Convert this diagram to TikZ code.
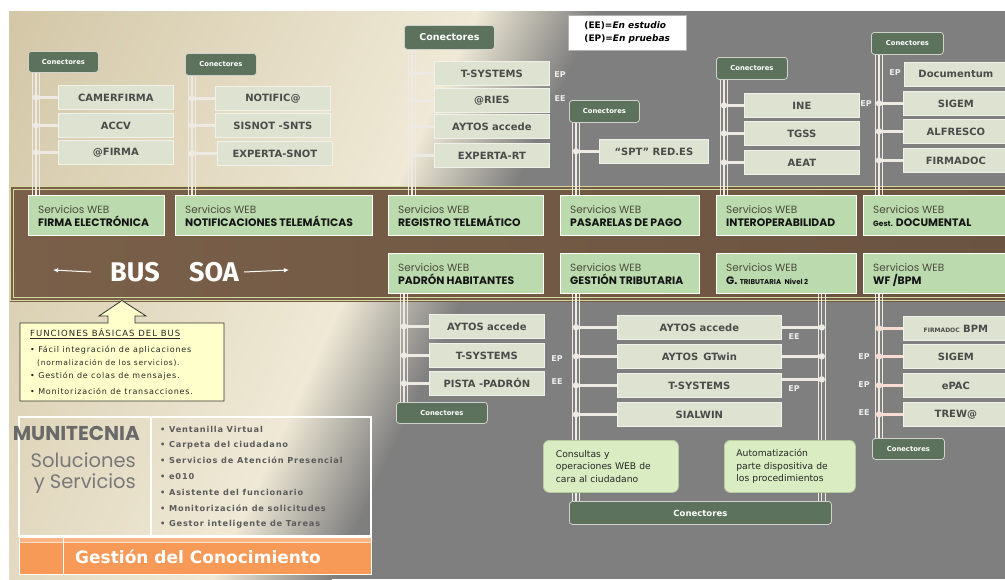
\documentclass[tikz,border=0pt]{standalone}
\usepackage{fontspec}
\setmainfont{DejaVu Sans}
\newfontfamily\gothic{Poppins}
\newfontfamily\busfont{Fira Sans}
\usetikzlibrary{shadows,arrows.meta}

\definecolor{bggray}{HTML}{7F7F7F}
\definecolor{beigeD}{HTML}{D3C7A7}
\definecolor{beigeL}{HTML}{EFE9D6}
\definecolor{busbrown}{HTML}{6A5341}
\definecolor{busbrownL}{HTML}{7A6049}
\definecolor{busline}{HTML}{D6D99F}
\definecolor{svcfill}{HTML}{BBDBAE}
\definecolor{svctext}{HTML}{4A4A3C}
\definecolor{compfill}{HTML}{DDE3D0}
\definecolor{compline}{HTML}{F0F2EA}
\definecolor{comptext}{HTML}{4B4B4B}
\definecolor{connfill}{HTML}{5C725C}
\definecolor{connline}{HTML}{D2D2CC}
\definecolor{wire}{HTML}{EDEAE3}
\definecolor{pinkwire}{HTML}{F7DDD3}
\definecolor{flagtext}{HTML}{EEEEEE}
\definecolor{calloutfill}{HTML}{D9ECC2}
\definecolor{calloutline}{HTML}{B9C9A0}
\definecolor{notefill}{HTML}{FFFFCC}
\definecolor{munigray}{HTML}{696969}
\definecolor{listgray}{HTML}{5B5B5B}
\definecolor{orangebar}{HTML}{F79A58}
\definecolor{orangelight}{HTML}{FBB585}

\pgfdeclarelayer{bg}
\pgfdeclarelayer{wires}
\pgfsetlayers{bg,wires,main}

\tikzset{
  comp/.style={draw=compline, fill=compfill, line width=.8pt, text=comptext,
    font=\bfseries\fontsize{10}{11}\selectfont, minimum height=24pt, inner sep=0pt, anchor=north west},
  conn/.style={draw=connline, fill=connfill, rounded corners=3pt, line width=.8pt, text=white,
    font=\bfseries\fontsize{6.8}{7}\selectfont, minimum width=71pt, minimum height=22pt,
    inner sep=0pt, anchor=north west},
  svc/.style={draw=white, fill=svcfill, line width=.8pt, minimum height=40pt, inner sep=0pt, anchor=north west},
  svcA/.style={anchor=base west, inner sep=0pt, text=svctext, font=\gothic\fontsize{10.5}{11}\selectfont},
  svcB/.style={anchor=base west, inner sep=0pt, text=black!92, font=\gothic\bfseries\fontsize{10.8}{11}\selectfont},
  flag/.style={text=flagtext, font=\bfseries\fontsize{8}{9}\selectfont, inner sep=0pt},
  branch/.style={wire, line width=3pt},
  callout/.style={draw=calloutline, fill=calloutfill, rounded corners=6pt, line width=.8pt,
    anchor=north west, align=left, text=black!85, font=\fontsize{9.2}{12.5}\selectfont,
    inner xsep=12pt, minimum height=52pt},
  note/.style={anchor=west, inner sep=0pt, text=black!85,
    font=\fontsize{8}{9}\selectfont\addfontfeatures{LetterSpace=10}},
  item/.style={anchor=west, inner sep=0pt, text=listgray,
    font=\bfseries\fontsize{8.2}{9}\selectfont\addfontfeatures{LetterSpace=10}},
  busarrow/.style={white, line width=1pt, -{Latex[length=5pt,width=4.5pt]}}
}

\begin{document}
\begin{tikzpicture}[x=1pt, y=-1pt]
\useasboundingbox (0,0) rectangle (1005,579);

% background and bus
\begin{pgfonlayer}{bg}
\fill[bggray] (9,11) rectangle (1005,579);
\begin{scope}
  \clip (9,11) rectangle (1005,579);
  \begin{scope}[transform canvas={rotate around={-25:(545,11)}}]
    \fill[beigeD] (-500,-600) rectangle (66,1300);
    \shade[left color=beigeD, right color=beigeL] (64,-600) rectangle (486,1300);
    \shade[left color=beigeL, right color=bggray] (484,-600) rectangle (592,1300);
  \end{scope}
\end{scope}
\shade[left color=busbrownL, right color=busbrown] (10,186) rectangle (1010,301);
\draw[busline, line width=1pt] (10.5,186.5) rectangle (1012,300.5);
\draw[busline, line width=.8pt] (13.5,189.5) rectangle (1012,297.5);
\end{pgfonlayer}

% servicios web
\foreach \nm/\x/\y/\w/\txt in {firma/28/195/136/{FIRMA ELECTRÓNICA},
    notif/175/195/197/{NOTIFICACIONES TELEMÁTICAS}, registro/388/195/155/{REGISTRO TELEMÁTICO},
    pasarela/560/195/139/{PASARELAS DE PAGO}, interop/716/195/140/{INTEROPERABILIDAD},
    gestdoc/863/195/145/{{\fontsize{7.5}{8}\selectfont Gest.} DOCUMENTAL},
    padron/388/253/155/{PADRÓN HABITANTES}, gestrib/560/253/139/{GESTIÓN TRIBUTARIA},
    gtrib2/716/253/140/{G. {\fontsize{7}{8}\selectfont TRIBUTARIA\enspace Nivel 2}},
    wfbpm/863/253/145/{WF /BPM}} {
  \node[svc, minimum width=\w pt] (\nm) at (\x,\y) {};
  \node[svcA] (\nm a) at ([shift={(10pt,-18pt)}]\nm.north west) {Servicios WEB};
  \node[svcB] (\nm b) at ([shift={(10pt,-31pt)}]\nm.north west) {\txt};
}

\node[font=\busfont\bfseries\fontsize{27}{28}\selectfont, text=white, inner sep=0pt] (bus) at (135,272) {BUS};
\node[font=\busfont\bfseries\fontsize{27}{28}\selectfont, text=white, inner sep=0pt] (soa) at (214,272) {SOA};
\coordinate (arrL) at (53,270);
\coordinate (arrR) at (289,270);

% conectores
\node[conn, minimum width=70pt, minimum height=21pt] (cFirma) at (28,51) {Conectores};
\node[conn] (cNotif) at (185,53) {Conectores};
\node[conn, minimum width=90pt, minimum height=24pt, font=\bfseries\fontsize{9.5}{10}\selectfont] (cRegistro) at (404,25) {Conectores};
\node[conn, minimum width=70pt] (cPasarela) at (569,100) {Conectores};
\node[conn] (cInterop) at (716,57) {Conectores};
\node[conn, minimum width=72pt] (cGestdoc) at (871,32) {Conectores};
\node[conn, minimum width=91pt, minimum height=21pt] (cPadron) at (396,402) {Conectores};
\node[conn, minimum width=262pt, minimum height=23pt, font=\bfseries\fontsize{8.5}{9}\selectfont] (cTrib) at (569,501) {Conectores};
\node[conn, minimum width=72pt, minimum height=21pt] (cWf) at (872,438) {Conectores};

% componentes
\foreach \nm/\x/\y/\w/\txt in {camer/58/85/115/CAMERFIRMA, accv/58/113/115/ACCV, afirma/58/140/115/@FIRMA,
    notifa/215/86/115/NOTIFIC@, sisnot/215/113/115/{SISNOT -SNTS}, esnot/217/141/115/EXPERTA-SNOT,
    tsysA/434/61/115/T-SYSTEMS, aries/434/88/115/@RIES, aytosA/434/114/115/{AYTOS accede}, ert/434/143/115/EXPERTA-RT,
    spt/599/139/109/{“SPT” RED.ES},
    ine/744/93/115/INE, tgss/744/121/115/TGSS, aeat/744/150/115/AEAT,
    docum/904/62/103/Documentum, sigemA/903/91/105/SIGEM, alfresco/903/119/105/ALFRESCO, firmadoc/903/148/105/FIRMADOC,
    aytosB/429/314/115/{AYTOS accede}, tsysB/429/343/115/T-SYSTEMS, pista/429/371/115/{PISTA -PADRÓN},
    aytosC/617/315/164/{AYTOS accede}, gtwin/617/344/164/{AYTOS\enspace GTwin}, tsysC/617/373/164/T-SYSTEMS,
    sialwin/617/402/164/SIALWIN,
    fbpm/903/316/105/{{\fontsize{6}{7}\selectfont FIRMADOC} BPM}, sigemB/903/344/105/SIGEM, epac/903/373/105/ePAC,
    trew/903/402/105/TREW@}
  \node[comp, minimum width=\w pt] (\nm) at (\x,\y) {\txt};

% estados
\foreach \x/\y/\t [count=\i] in {560/75/EP, 560/99/EE, 895/73/EP, 866/104/EP, 557/359/EP, 557/382/EE,
    794/337/EE, 794/389/EP, 864/357/EP, 864/385/EP, 864/413/EE}
  \node[flag] (flag\i) at (\x,\y) {\t};

\node[draw=black!30, fill=white, minimum width=118pt, minimum height=35pt, anchor=north west,
  align=left, font=\bfseries\fontsize{9}{13}\selectfont, inner xsep=10pt,
  drop shadow={shadow xshift=2pt, shadow yshift=-2pt, opacity=.45}] (leyenda) at (568,15)
  {(EE)=\textit{En estudio}\\(EP)=\textit{En pruebas}};

\node[callout, minimum width=135pt, text width=110pt] (consulta) at (543,440) {Consultas y\\operaciones WEB de\\cara al ciudadano};
\node[callout, minimum width=131pt, text width=107pt] (automat) at (724,440) {Automatización\\parte dispositiva de\\los procedimientos};

% funciones del bus
\filldraw[fill=notefill, draw=black!80, line width=.8pt] (20,323) -- (108,323) -- (108,316) -- (99,316)
  -- (122,300.5) -- (146,316) -- (135,316) -- (135,323) -- (224,323) -- (224,401) -- (20,401) -- cycle;
\node[note, font=\fontsize{8.5}{9}\selectfont\addfontfeatures{LetterSpace=12}] (fTitle) at (30,334) {\underline{FUNCIONES BÁSICAS DEL BUS}};
\node[note] (f1) at (30,350) {• Fácil integración de aplicaciones};
\node[note, font=\fontsize{7.5}{8}\selectfont\addfontfeatures{LetterSpace=10}] (f2) at (37,363) {(normalización de los servicios).};
\node[note] (f3) at (30,376) {• Gestión de colas de mensajes.};
\node[note] (f4) at (30,391) {• Monitorización de transacciones.};

% munitecnia
\draw[white, line width=1.2pt] (19,417) rectangle (371,536);
\draw[white, line width=1.2pt] (151,417) -- (151,536);
\node[anchor=base east, inner sep=0pt, text=munigray, font=\gothic\bfseries\fontsize{20}{22}\selectfont] (muni) at (140,440) {MUNITECNIA};
\node[anchor=base east, inner sep=0pt, text=munigray!90, font=\gothic\fontsize{19.5}{22}\selectfont] (sol) at (136,467) {Soluciones};
\node[anchor=base east, inner sep=0pt, text=munigray!90, font=\gothic\fontsize{19.5}{22}\selectfont] (yserv) at (136,488) {y Servicios};
\foreach \t [count=\i] in {Ventanilla Virtual, Carpeta del ciudadano, Servicios de Atención Presencial, e010,
    Asistente del funcionario, Monitorización de solicitudes, Gestor inteligente de Tareas}
  \node[item] (srv\i) at (160,{429+15.83*(\i-1)}) {• \t};
\fill[orangebar] (19,537) rectangle (371,574);
\fill[orangelight] (19,537) rectangle (371,542);
\draw[white!60!orangelight, line width=.6pt] (19,542.5) -- (371,542.5);
\draw[white, line width=1pt] (19,537) rectangle (371,574);
\draw[white, line width=1pt] (63,537) -- (63,574);
\node[text=white, font=\bfseries\fontsize{17}{18}\selectfont, inner sep=0pt] (gestion) at (198,557) {Gestión del Conocimiento};

% cableado
\begin{pgfonlayer}{wires}
\draw[busarrow] ([xshift=-19pt]bus.west) -- (arrL);
\draw[busarrow] ([xshift=5pt]soa.east) -- (arrR);
\coordinate (t1) at ([xshift=8pt]cFirma.south west);
\coordinate (t2) at ([xshift=7pt]cNotif.south west);
\coordinate (t3) at ([xshift=8pt]cRegistro.south west);
\coordinate (t4) at ([xshift=7pt]cPasarela.south west);
\coordinate (t5) at ([xshift=8pt]cInterop.south west);
\coordinate (t6) at ([xshift=8pt]cGestdoc.south west);
\coordinate (t7) at ([xshift=8pt]cPadron.north west);
\coordinate (t8) at ([xshift=7pt]cTrib.north west);
\coordinate (t9) at ([xshift=-10pt]cTrib.north east);
\coordinate (t10) at ([xshift=7pt]cWf.north west);
\foreach \a/\b in {t1/firma, t2/notif, t3/registro, t4/pasarela, t5/interop, t6/gestdoc} {
  \coordinate (\a e) at (\a |- \b.north);
  \foreach \d in {-3.3,0,3.3}
    \draw[wire, line width=1.1pt] ([xshift=\d pt]\a) -- ([xshift=\d pt]\a e);
}
\foreach \a/\b in {t7/padron, t8/gestrib, t9/gtrib2, t10/wfbpm} {
  \coordinate (\a e) at (\a |- \b.south);
  \foreach \d in {-3.3,0,3.3}
    \draw[wire, line width=1.1pt] ([xshift=\d pt]\a e) -- ([xshift=\d pt]\a);
}
\foreach \b in {camer,accv,afirma} {\draw[branch] (\b.west) -- (\b.west -| t1); \fill[wire] (\b.west -| t1) circle (3.2pt);}
\foreach \b in {notifa,sisnot,esnot} {\draw[branch] (\b.west) -- (\b.west -| t2); \fill[wire] (\b.west -| t2) circle (3.2pt);}
\foreach \b in {tsysA,aries,aytosA,ert} {\draw[branch] (\b.west) -- (\b.west -| t3); \fill[wire] (\b.west -| t3) circle (3.2pt);}
\foreach \b in {spt} {\draw[branch] (\b.west) -- (\b.west -| t4); \fill[wire] (\b.west -| t4) circle (3.2pt);}
\foreach \b in {ine,tgss,aeat} {\draw[branch] (\b.west) -- (\b.west -| t5); \fill[wire] (\b.west -| t5) circle (3.2pt);}
\foreach \b in {sigemA,alfresco,firmadoc} {\draw[branch] (\b.west) -- (\b.west -| t6); \fill[wire] (\b.west -| t6) circle (3.2pt);}
\foreach \b in {aytosB,tsysB,pista} {\draw[branch] (\b.west) -- (\b.west -| t7); \fill[wire] (\b.west -| t7) circle (3.2pt);}
\foreach \b in {aytosC,gtwin,tsysC,sialwin} {\draw[branch] (\b.west) -- (\b.west -| t8); \fill[wire] (\b.west -| t8) circle (3.2pt);}
\foreach \b in {aytosC,gtwin} {\draw[branch] (\b.east) -- (\b.east -| t9); \fill[wire] (\b.east -| t9) circle (3.2pt);}
\coordinate (tsysCe) at ([yshift=6pt]tsysC.east);
\draw[branch] (tsysCe) -- (tsysCe -| t9); \fill[wire] (tsysCe -| t9) circle (3.2pt);
\foreach \b in {fbpm,sigemB,epac,trew} {\draw[branch, pinkwire] (\b.west) -- (\b.west -| t10); \fill[pinkwire] (\b.west -| t10) circle (3.2pt);}
\end{pgfonlayer}
\end{tikzpicture}
\end{document}
